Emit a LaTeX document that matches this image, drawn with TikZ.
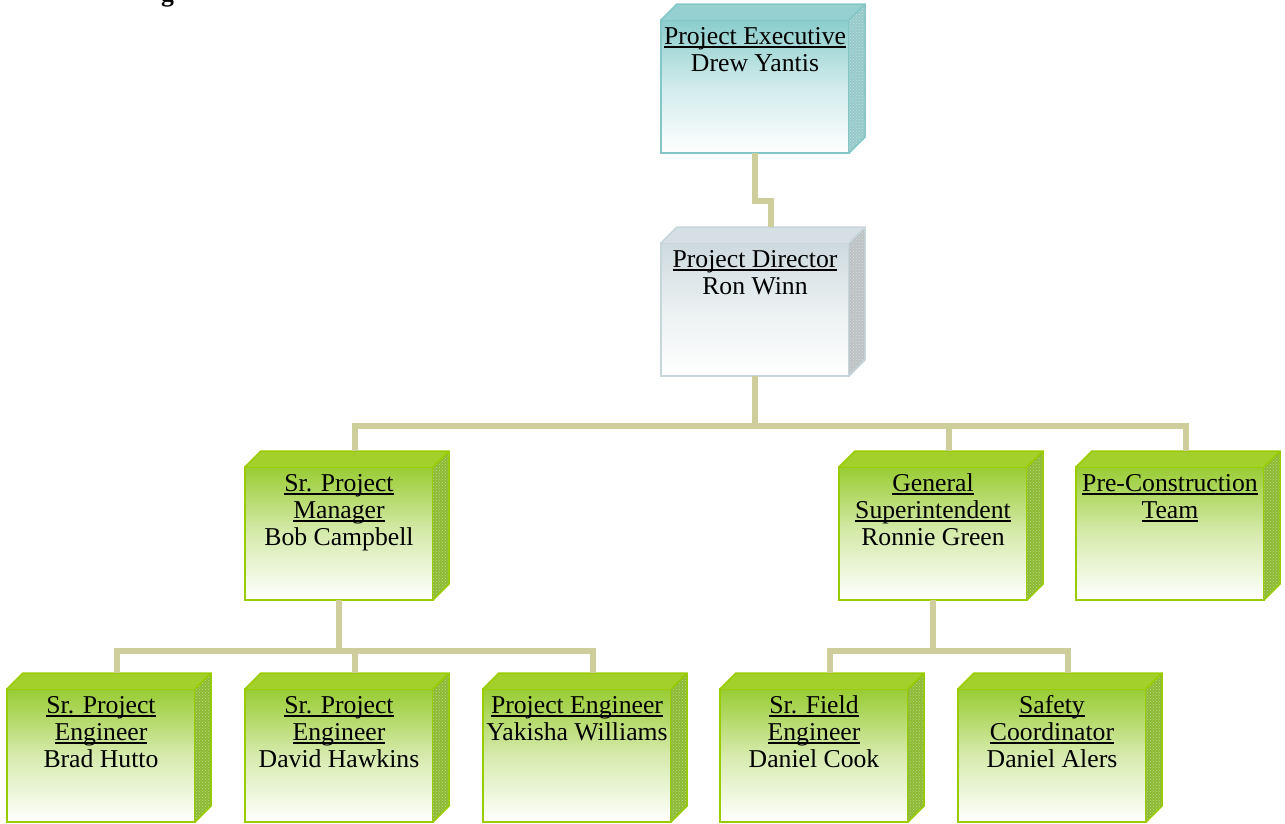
\documentclass[tikz,border=0pt]{standalone}
\usepackage{fontspec}
\setmainfont{Liberation Serif}
\usepackage{tikz}
\usetikzlibrary{patterns}
\usepackage{xcolor}

\definecolor{grnFace}{RGB}{153,204,51}
\definecolor{grnLine}{RGB}{153,204,0}
\definecolor{grnTop}{RGB}{164,208,44}
\definecolor{grnSide}{RGB}{140,186,50}
\definecolor{tealFace}{RGB}{140,205,205}
\definecolor{tealLine}{RGB}{130,198,198}
\definecolor{tealTop}{RGB}{150,208,208}
\definecolor{tealSide}{RGB}{150,202,202}
\definecolor{greyFace}{RGB}{205,218,222}
\definecolor{greyLine}{RGB}{198,214,218}
\definecolor{greyTop}{RGB}{214,224,228}
\definecolor{greySide}{RGB}{188,194,196}
\definecolor{linkTan}{RGB}{206,206,156}

\newcommand{\ttl}[1]{\setbox0\hbox{#1}\rlap{\rule[-3.5pt]{\wd0}{1.6pt}}\box0}

\newcommand{\orgbox}[5]{%
  \node[front, draw=#4Line, top color=#4Face, bottom color=white, middle color=#4Face!40!white] (#1) at (#2,#3) {};
  \coordinate (#1-top) at ([xshift=16pt,yshift=16pt]#1.north);
  \fill[#4Top] (#1.north west) -- ++(16,-16) -- ++(188,0) -- (#1.north east) -- cycle;
  \fill[#4Side] (#1.north east) -- ++(16,-16) -- ++(0,133) -- (#1.south east) -- cycle;
  \fill[pattern=crosshatch dots, pattern color=white, opacity=.45] (#1.north east) -- ++(16,-16) -- ++(0,133) -- (#1.south east) -- cycle;
  \draw[#4Line, line width=1.5pt] (#1.north west) -- ++(16,-16) -- ++(188,0) -- ++(0,133) -- (#1.south east) (#1.north east) -- ++(16,-16);
  \node[txt] (#1-t) at ([yshift=-5pt]#1.north) {#5};
}

\begin{document}
\begin{tikzpicture}[x=1pt, y=-1pt,
  front/.style={anchor=north west, minimum width=188pt, minimum height=133pt, inner sep=0, outer sep=0, line width=1.5pt},
  txt/.style={anchor=north, inner sep=0, align=center, font=\fontsize{25.7}{27}\selectfont},
  link/.style={draw=linkTan, line width=6pt}]
 \useasboundingbox (0,0) rectangle (1285,823);
 \node[anchor=base west, inner sep=0, font=\fontsize{25.7}{27}\selectfont\bfseries] (head) at (161,1) {g};

 \orgbox{exec}{661}{20}{teal}{\strut\ttl{Project Executive}\\Drew Yantis}
 \orgbox{dir}{661}{243}{grey}{\strut\ttl{Project Director}\\Ron Winn}
 \orgbox{srpm}{245}{467}{grn}{\strut\ttl{Sr. Project}\\\ttl{Manager}\\Bob Campbell}
 \orgbox{gs}{839}{467}{grn}{\strut\ttl{General}\\\ttl{Superintendent}\\Ronnie Green}
 \orgbox{precon}{1076}{467}{grn}{\strut\ttl{Pre-Construction}\\\ttl{Team}}
 \orgbox{bh}{7}{689}{grn}{\strut\ttl{Sr. Project}\\\ttl{Engineer}\\Brad Hutto}
 \orgbox{dh}{245}{689}{grn}{\strut\ttl{Sr. Project}\\\ttl{Engineer}\\David Hawkins}
 \orgbox{yw}{483}{689}{grn}{\strut\ttl{Project Engineer}\\Yakisha Williams}
 \orgbox{dc}{720}{689}{grn}{\strut\ttl{Sr. Field}\\\ttl{Engineer}\\Daniel Cook}
 \orgbox{da}{958}{689}{grn}{\strut\ttl{Safety}\\\ttl{Coordinator}\\Daniel Alers}

 % links
 \draw[link] (exec.south) -- ++(0,48) -| (dir-top);
 \draw[link] (dir.south) -- ++(0,50) coordinate (hub);
 \draw[link] (srpm-top) |- (hub) -| (precon-top);
 \draw[link] (gs-top) -- (gs-top |- hub);
 \draw[link] (srpm.south) -- ++(0,51) coordinate (hub2);
 \draw[link] (bh-top) |- (hub2) -| (yw-top);
 \draw[link] (dh-top) -- (dh-top |- hub2);
 \draw[link] (gs.south) -- ++(0,51) coordinate (hub3);
 \draw[link] (dc-top) |- (hub3) -| (da-top);
\end{tikzpicture}
\end{document}
